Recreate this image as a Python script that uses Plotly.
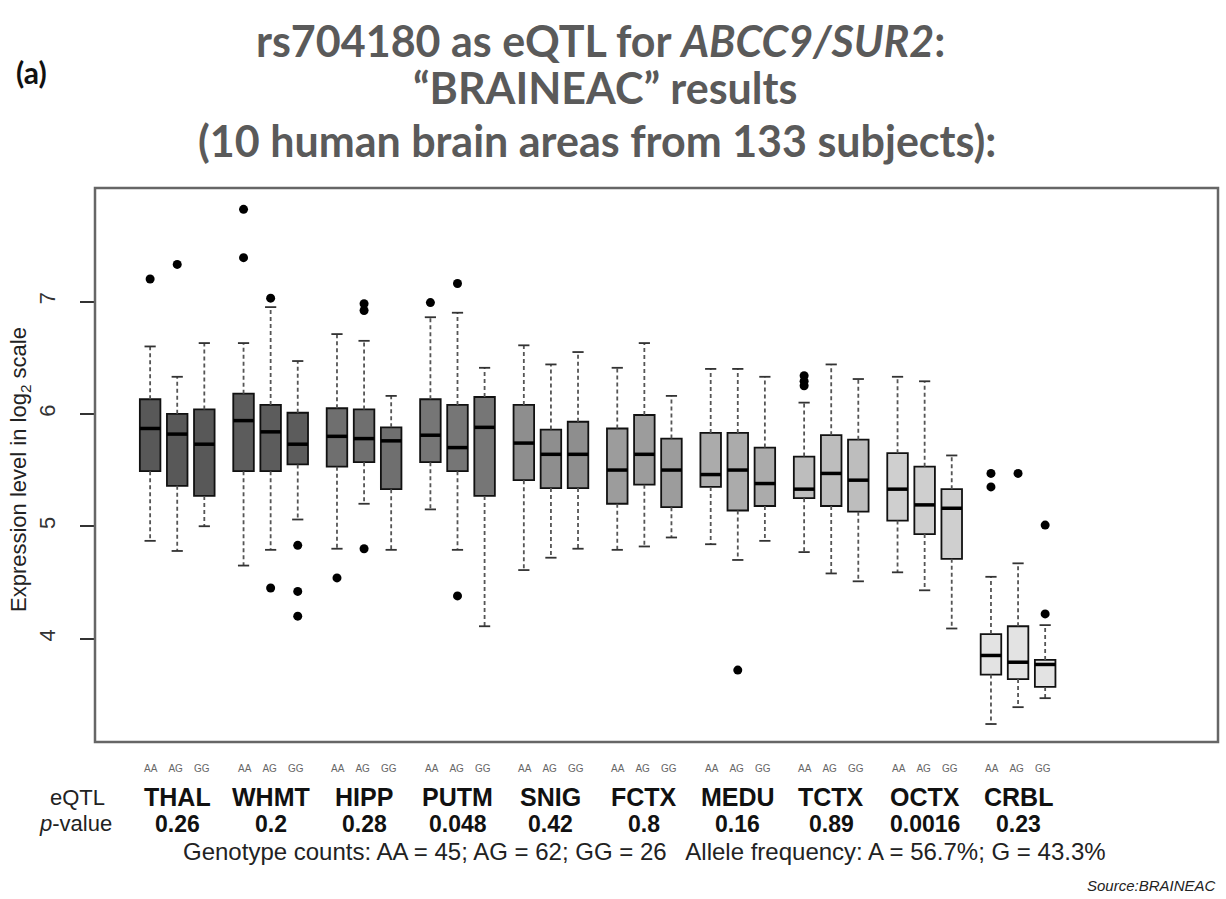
import plotly.graph_objects as go

regions = ["THAL", "WHMT", "HIPP", "PUTM", "SNIG", "FCTX", "MEDU", "TCTX", "OCTX", "CRBL"]
pvalues = ["0.26", "0.2", "0.28", "0.048", "0.42", "0.8", "0.16", "0.89", "0.0016", "0.23"]
genotypes = ["AA", "AG", "GG"]
fills = ["#585858", "#5c5c5c", "#6f6f6f", "#767676", "#8e8e8e", "#9c9c9c",
         "#ababab", "#bdbdbd", "#cfcfcf", "#e3e3e3"]

# per region: [AA, AG, GG]
upper = [[6.60, 6.33, 6.63], [6.63, 6.95, 6.47], [6.71, 6.65, 6.16], [6.86, 6.90, 6.41],
         [6.61, 6.44, 6.55], [6.41, 6.63, 6.16], [6.40, 6.40, 6.33], [6.10, 6.44, 6.31],
         [6.33, 6.29, 5.63], [4.55, 4.67, 4.12]]
q3 = [[6.13, 6.00, 6.04], [6.18, 6.08, 6.01], [6.05, 6.04, 5.88], [6.13, 6.08, 6.15],
      [6.08, 5.86, 5.93], [5.87, 5.99, 5.78], [5.83, 5.83, 5.70], [5.62, 5.81, 5.77],
      [5.65, 5.53, 5.33], [4.04, 4.11, 3.81]]
median = [[5.87, 5.82, 5.73], [5.94, 5.84, 5.73], [5.80, 5.78, 5.76], [5.81, 5.70, 5.88],
          [5.74, 5.64, 5.64], [5.50, 5.64, 5.50], [5.46, 5.50, 5.38], [5.33, 5.47, 5.41],
          [5.33, 5.19, 5.16], [3.85, 3.79, 3.77]]
q1 = [[5.49, 5.36, 5.27], [5.49, 5.49, 5.55], [5.53, 5.57, 5.33], [5.57, 5.49, 5.27],
      [5.41, 5.34, 5.34], [5.20, 5.37, 5.17], [5.35, 5.14, 5.18], [5.25, 5.18, 5.13],
      [5.05, 4.93, 4.71], [3.68, 3.64, 3.57]]
lower = [[4.87, 4.78, 5.00], [4.65, 4.79, 5.06], [4.80, 5.20, 4.79], [5.15, 4.79, 4.11],
         [4.61, 4.72, 4.80], [4.79, 4.82, 4.90], [4.84, 4.70, 4.87], [4.77, 4.58, 4.51],
         [4.59, 4.43, 4.09], [3.24, 3.39, 3.47]]
outliers = [[[7.20], [7.33], []],
            [[7.82, 7.39], [7.03, 4.45], [4.83, 4.42, 4.20]],
            [[4.54], [6.98, 6.92, 4.80], []],
            [[6.99], [7.16, 4.38], []],
            [[], [], []],
            [[], [], []],
            [[], [3.72], []],
            [[6.34, 6.29, 6.25], [], []],
            [[], [], []],
            [[5.47, 5.35], [5.47], [5.01, 4.22]]]

OFFSET = 0.29
BOXW = 0.22
CAPW = 0.06

fig = go.Figure()

wx, wy, cx, cy, mx, my, ox, oy = [], [], [], [], [], [], [], []
for g, reg in enumerate(regions):
    pos = [g + 1 + (k - 1) * OFFSET for k in range(3)]
    fig.add_trace(go.Box(
        x=pos, q1=q1[g], median=median[g], q3=q3[g],
        lowerfence=q1[g], upperfence=q3[g],
        width=BOXW, fillcolor=fills[g], line=dict(color="#111111", width=1.8),
        boxpoints=False, showlegend=False, hoverinfo="skip"))
    for k in range(3):
        p = pos[k]
        wx += [p, p, None, p, p, None]
        wy += [q3[g][k], upper[g][k], None, q1[g][k], lower[g][k], None]
        cx += [p - CAPW, p + CAPW, None, p - CAPW, p + CAPW, None]
        cy += [upper[g][k], upper[g][k], None, lower[g][k], lower[g][k], None]
        mx += [p - BOXW / 2, p + BOXW / 2, None]
        my += [median[g][k], median[g][k], None]
        for v in outliers[g][k]:
            ox.append(p)
            oy.append(v)

fig.add_trace(go.Scatter(x=wx, y=wy, mode="lines", line=dict(color="#555555", width=1.8, dash="4px,3px"),
                         showlegend=False, hoverinfo="skip"))
fig.add_trace(go.Scatter(x=cx, y=cy, mode="lines", line=dict(color="#333333", width=1.8),
                         showlegend=False, hoverinfo="skip"))
fig.add_trace(go.Scatter(x=mx, y=my, mode="lines", line=dict(color="#000000", width=3.5),
                         showlegend=False, hoverinfo="skip"))
fig.add_trace(go.Scatter(x=ox, y=oy, mode="markers", marker=dict(color="#000000", size=9),
                         showlegend=False, hoverinfo="skip"))


def px(xp):
    return (xp - 95) / 1123


def py(yp):
    return (742 - yp) / 554


ann = []
for g, reg in enumerate(regions):
    ann.append(dict(x=g + 1, y=py(768), xref="x", yref="paper", text="&nbsp;&nbsp;&nbsp;&nbsp;".join(genotypes),
                    xanchor="center", yanchor="middle", showarrow=False,
                    font=dict(family="Liberation Sans", size=10, color="#666666")))
    ann.append(dict(x=g + 1, y=py(797), xref="x", yref="paper", text="<b>%s</b>" % reg,
                    xanchor="center", yanchor="middle", showarrow=False,
                    font=dict(family="Liberation Sans", size=25, color="#111111")))
    ann.append(dict(x=g + 1, y=py(824), xref="x", yref="paper", text="<b>%s</b>" % pvalues[g],
                    xanchor="center", yanchor="middle", showarrow=False,
                    font=dict(family="Liberation Sans", size=23, color="#111111")))

ann += [
    dict(x=px(77), y=py(797), xref="paper", yref="paper", showarrow=False, text="eQTL",
         xanchor="center", yanchor="middle",
         font=dict(family="Liberation Sans", size=22, color="#222222")),
    dict(x=px(75), y=py(824), xref="paper", yref="paper", showarrow=False, text="<i>p</i>-value",
         xanchor="center", yanchor="middle",
         font=dict(family="Liberation Sans", size=22, color="#222222")),
    dict(x=px(644), y=py(851), xref="paper", yref="paper", showarrow=False,
         xanchor="center", yanchor="middle",
         text="Genotype counts: AA = 45; AG = 62; GG = 26   Allele frequency: A = 56.7%; G = 43.3%",
         font=dict(family="Liberation Sans", size=24, color="#222222")),
    dict(x=1.0, y=py(885), xref="paper", yref="paper", showarrow=False, xanchor="right", yanchor="middle",
         text="<i>Source:BRAINEAC</i>", font=dict(family="Liberation Sans", size=15, color="#222222")),
    dict(x=px(20), y=py(470), xref="paper", yref="paper", showarrow=False, textangle=-90,
         xanchor="center", yanchor="middle",
         text="Expression level in log<sub>2</sub> scale",
         font=dict(family="Liberation Sans", size=22, color="#222222")),
]

title_font = dict(family="Lato", size=43, color="#5a5a5a")
ann += [
    dict(x=px(600), y=py(40), xref="paper", yref="paper", showarrow=False, xanchor="center", yanchor="middle",
         text="<b>rs704180 as eQTL for <i>ABCC9/SUR2</i>:</b>", font=title_font),
    dict(x=px(605), y=py(87), xref="paper", yref="paper", showarrow=False, xanchor="center", yanchor="middle",
         text="<b>\u201cBRAINEAC\u201d results</b>", font=title_font),
    dict(x=px(597), y=py(140), xref="paper", yref="paper", showarrow=False, xanchor="center", yanchor="middle",
         text="<b>(10 human brain areas from 133 subjects):</b>", font=title_font),
    dict(x=px(31), y=py(72), xref="paper", yref="paper", showarrow=False, xanchor="center", yanchor="middle",
         text="<b>(a)</b>", font=dict(family="Lato", size=30, color="#111111")),
]

fig.update_layout(
    width=1226, height=899,
    margin=dict(l=95, r=8, t=188, b=157),
    paper_bgcolor="white", plot_bgcolor="white",
    annotations=ann,
    xaxis=dict(range=[0.12, 12.14], showticklabels=False, ticks="", showgrid=False,
               zeroline=False, showline=False),
    yaxis=dict(range=[3.08, 8.01], tickvals=[4, 5, 6, 7], ticktext=["4", "5", "6", "7"],
               tickangle=-90, ticks="outside", ticklen=14, tickcolor="#333333", tickwidth=1.5,
               ticklabelstandoff=16,
               tickfont=dict(family="Liberation Sans", size=22, color="#333333"),
               showgrid=False, zeroline=False, showline=False),
    shapes=[dict(type="rect", xref="paper", yref="paper", x0=0, y0=0, x1=1, y1=1,
                 line=dict(color="#666666", width=2.5))],
)

fig.write_html("out.html")
